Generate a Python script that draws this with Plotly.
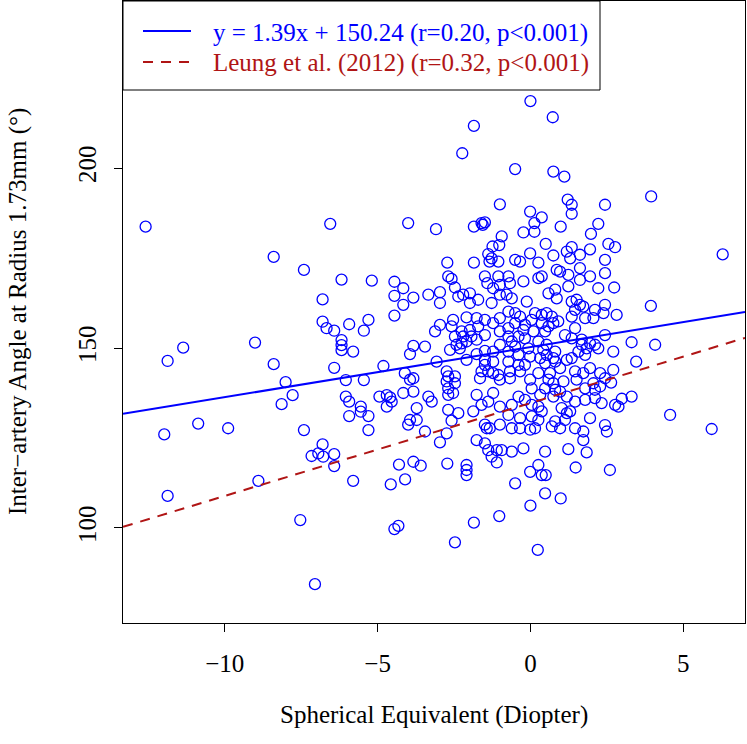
import plotly.graph_objects as go

# Spherical equivalent (diopter) values
se_x = [
    # far left
    -12.59, -11.87, -11.36, -9.01, -11.98, -10.87, -9.89, -11.87, -8.90,
    # -8.5 .. -4.3
    -6.55, -8.40, -7.41, -6.18, -5.19, -4.45, -4.45, -4.45, -6.80, -6.80,
    -6.67, -6.42, -5.93, -5.30, -5.45, -6.18, -6.18, -6.18, -5.80, -8.40,
    -6.42, -4.81, -8.01, -6.04, -5.45, -7.78, -8.14, -6.04, -5.93, -5.55,
    -5.55, -5.93, -5.30, -5.30, -4.94, -4.70, -4.59, -4.54, -4.70, -7.41,
    -6.80, -7.16, -6.94, -6.78, -6.42, -6.42, -5.80, -4.57, -7.53, -4.45,
    -4.32, -7.05,
    # upper middle
    -1.85, -2.23, -1.00, -4.00, -3.09, -1.85, -1.60, -1.49, -1.56, -0.94,
    -1.02, -1.24, -1.38, -1.27, -2.72, -1.85, -1.34, -1.05,
    # middle -4.2 .. -0.9
    -2.69, -2.58, -4.16, -4.16, -3.83, -3.34, -2.96, -2.96, -2.47, -2.36,
    -2.20, -1.98, -1.98, -1.71, -1.49, -1.41, -1.22, -1.05, -1.00, -1.00,
    -1.27, -2.53, -2.09, -1.76, -1.49, -1.22, -1.00, -2.96, -3.12, -2.58,
    -2.25, -1.98, -1.71, -2.47, -2.20, -1.93, -1.49, -1.00, -2.42, -2.25,
    -2.09, -1.76, -2.63, -2.31, -3.83, -3.45, -3.94, -1.49, -1.76, -1.22,
    -1.00, -3.07, -2.09, -1.49, -1.49, -1.22, -1.60, -1.38, -1.22, -1.05,
    -1.00, -1.65, -4.11, -3.94, -3.83, -2.74, -2.69, -2.47, -2.74, -2.47,
    -2.69, -2.53, -2.69, -4.16, -3.83, -3.34, -3.23, -1.76, -1.22, -1.38,
    -1.60, -1.00, -3.72, -2.69, -2.36, -1.87, -3.94, -3.72, -4.00, -2.58,
    -1.49, -1.33, -1.43, -1.00, -3.45, -2.74,
    # lower middle
    -2.96, -1.76, -1.49, -1.38, -1.10, -0.94, -1.27, -1.10, -4.30, -3.83,
    -3.59, -2.72, -2.09, -2.09, -2.09, -4.10, -1.85, -1.02, -2.47,
    # upper right
    0.00, 0.73, -0.50, 0.75, 1.11, 1.22, 1.35, 1.35, 2.44, -0.01,
    0.37, 0.13, 0.13, -0.23, 0.99, 2.22, 1.98, 0.50, -0.01, -0.50,
    -0.34, 0.26, 0.75, 1.19, 1.35, 1.30, 1.62, 1.95, 2.44, 2.55,
    3.95, 6.29, 2.77,
    # dense centre
    0.86, 0.97, 1.24, 1.62, 1.95, -0.72, -0.67, -0.23, 0.26, 0.37,
    1.24, 1.62, 2.22, 0.59, 0.81, 0.86, 2.44, -0.78, -0.61, -0.12,
    1.35, 1.51, 1.62, 1.73, 1.46, 2.11, 2.44, 2.39, 2.06, 1.79,
    1.35, -0.72, -0.50, -0.34, 0.15, 0.37, 0.53, 0.70, 0.91, 0.75,
    0.37, 0.04, -0.18, -0.50, -0.72, -0.23, 0.10, 0.48, 1.46, 0.59,
    -0.72, -0.39, -0.61, -0.18, 0.26, 0.53, 1.13, 1.35, 1.68, 1.95,
    1.84, 2.11, 2.44, 2.22, -0.50, -0.07, 0.42, 0.81, 1.57, 1.79,
    1.68, -0.72, -0.39, -0.01, 0.32, 0.53, 0.75, 0.81, 1.19, 1.35,
    0.48, -0.39, -0.18, -0.72, -0.67, -0.34, 0.26, 0.64, 0.97, 1.46,
    1.73, 1.95, 2.28, 2.44, -0.67, -0.01, 0.59, 0.75, 1.08, 1.51,
    2.06, 2.28, 0.04, 0.48, 0.81, 0.97, 1.79, 2.11, -0.39, -0.18,
    0.32, 0.75, 1.19, -0.61, 0.04, 0.26, 0.37, 1.02, 1.19, 1.46,
    1.79, 2.11, 2.33, -0.72, -0.34, 0.04, 0.26, 0.81, 1.13, 1.30,
    1.95, -0.61, -0.34, -0.01, 0.15, 0.70, 0.97, 1.46, 1.73, 2.44,
    2.50,
    # lower right centre
    1.73, -0.61, -0.23, 0.48, 1.24, 1.84, 0.26, -0.01, 0.37, 0.50,
    1.48, 2.60, -0.50, 0.48, 0.99, 0.00, 0.24,
    # right
    2.74, 3.94, 2.82, 3.31, 4.08, 2.71, 3.46, 2.71, 2.64, 3.31,
    2.99, 2.77, 2.88, 4.57, 5.93,
]

# Inter-artery angle (degrees) values, same order
angle_y = [
    183.7, 146.4, 150.1, 151.5, 126.0, 129.0, 127.7, 108.9, 113.1,
    184.5, 175.3, 171.7, 169.0, 168.7, 168.4, 164.5, 159.0, 163.5, 157.3,
    155.5, 154.8, 156.6, 157.8, 154.8, 152.2, 150.8, 149.4, 149.0, 145.5,
    144.5, 145.0, 140.5, 141.1, 141.1, 136.9, 134.4, 136.5, 135.1, 133.7,
    132.3, 131.1, 131.1, 127.2, 136.5, 136.9, 136.3, 135.1, 133.7, 127.2,
    123.2, 120.0, 120.7, 119.8, 120.5, 117.2, 113.1, 112.1, 102.2, 99.7,
    100.6, 84.4,
    211.7, 204.1, 189.9, 184.7, 183.0, 183.7, 184.7, 184.9, 184.2, 181.0,
    178.6, 178.2, 176.1, 174.9, 173.7, 173.7, 174.0, 174.0,
    169.9, 169.2, 166.6, 162.0, 164.0, 164.8, 165.5, 162.5, 166.8, 164.3,
    164.8, 165.2, 162.5, 163.4, 169.9, 168.0, 166.6, 169.9, 167.5, 164.8,
    162.5, 157.8, 158.5, 158.3, 157.8, 156.9, 158.3, 156.4, 154.6, 156.0,
    154.6, 155.0, 156.0, 153.2, 153.2, 153.2, 153.6, 154.6, 150.9, 151.3,
    151.8, 152.3, 149.5, 149.9, 150.6, 150.4, 148.3, 149.2, 148.3, 149.0,
    150.9, 146.2, 146.7, 146.7, 145.3, 146.2, 143.5, 143.5, 143.0, 142.5,
    141.2, 141.6, 143.0, 141.2, 141.6, 143.5, 142.1, 142.1, 140.7, 140.2,
    138.8, 137.5, 137.0, 137.5, 137.9, 136.5, 135.1, 137.0, 137.5, 135.1,
    134.2, 133.7, 133.3, 132.8, 131.9, 132.4, 130.0, 130.0, 128.7, 129.8,
    128.7, 127.7, 127.7, 128.7, 126.8, 126.3,
    123.8, 124.4, 123.5, 121.6, 121.6, 121.6, 119.8, 118.2, 117.6, 118.4,
    117.3, 117.9, 117.5, 116.1, 114.7, 113.5, 101.5, 103.3, 96.0,
    218.6, 214.1, 199.7, 199.0, 197.6, 191.2, 189.8, 187.3, 189.8, 187.9,
    186.3, 184.7, 182.3, 182.1, 183.7, 184.5, 181.7, 178.9, 176.3, 174.5,
    174.0, 173.7, 175.7, 176.8, 178.0, 174.9, 175.9, 177.4, 174.5, 178.9,
    192.1, 176.0, 178.0,
    171.7, 171.2, 170.3, 172.2, 169.9, 169.9, 168.0, 168.5, 169.4, 169.9,
    167.1, 168.9, 166.6, 165.2, 166.2, 163.8, 170.8, 164.8, 163.8, 162.9,
    162.9, 163.4, 162.0, 161.5, 160.6, 160.6, 162.0, 159.7, 158.3, 158.3,
    158.7, 160.1, 159.7, 158.7, 159.7, 159.2, 159.7, 158.7, 157.4, 156.9,
    156.9, 157.8, 156.4, 156.9, 155.5, 155.0, 154.6, 154.6, 155.5, 156.0,
    153.2, 153.2, 151.8, 152.7, 151.8, 150.9, 153.6, 152.7, 152.3, 151.3,
    149.9, 150.9, 153.6, 149.9, 150.4, 149.9, 149.5, 149.0, 149.0, 148.1,
    150.9, 149.0, 148.1, 147.6, 147.2, 148.1, 147.2, 146.2, 146.7, 147.2,
    145.8, 145.3, 145.3, 146.2, 143.5, 143.5, 143.0, 143.0, 144.4, 143.5,
    143.0, 144.4, 143.0, 141.6, 141.6, 141.2, 141.2, 140.2, 140.7, 141.2,
    140.2, 139.3, 138.8, 138.8, 138.4, 137.9, 138.8, 138.4, 136.5, 135.6,
    137.0, 136.5, 136.5, 134.2, 134.2, 133.7, 132.4, 133.3, 131.9, 135.1,
    135.6, 136.1, 134.7, 131.4, 130.5, 131.0, 130.0, 129.6, 130.0, 132.4,
    130.5, 127.7, 127.7, 127.3, 127.7, 128.2, 127.7, 127.7, 126.8, 128.6,
    126.8,
    124.4, 121.2, 122.1, 121.2, 121.9, 121.0, 117.5, 115.6, 114.7, 114.7,
    116.8, 116.1, 112.4, 109.6, 108.2, 106.2, 93.9,
    166.8, 161.7, 159.2, 151.6, 150.9, 149.0, 146.2, 143.9, 140.4, 136.5,
    135.9, 134.2, 133.7, 131.4, 127.5,
]

# Regression lines: (slope, intercept)
fit_slope, fit_intercept = 1.39, 150.24
leung_slope, leung_intercept = 2.58, 134.7

x_range = [-13.33, 7.02]
y_range = [73.6, 246.4]
x_ticks = [-10, -5, 0, 5]
x_ticklabels = ["\u221210", "\u22125", "0", "5"]
y_ticks = [100, 150, 200]
y_ticklabels = ["100", "150", "200"]

legend_labels = [
    "y = 1.39x + 150.24 (r=0.20, p<0.001)",
    "Leung et al. (2012) (r=0.32, p<0.001)",
]
x_title = "Spherical Equivalent (Diopter)"
y_title = "Inter\u2212artery Angle at Radius 1.73mm (\u00b0)"

BLUE = "#0000FF"
RED = "#B01515"
FONT = "Liberation Serif"
FS = 25

fig = go.Figure()
fig.add_trace(go.Scatter(
    x=se_x, y=angle_y, mode="markers",
    marker=dict(symbol="circle-open", size=11, color=BLUE,
                line=dict(width=1.3, color=BLUE)),
    showlegend=False, hoverinfo="x+y",
))
fig.add_trace(go.Scatter(
    x=x_range, y=[fit_intercept + fit_slope * v for v in x_range],
    mode="lines", line=dict(color=BLUE, width=2), showlegend=False,
))
fig.add_trace(go.Scatter(
    x=x_range, y=[leung_intercept + leung_slope * v for v in x_range],
    mode="lines", line=dict(color=RED, width=2, dash="10px,8px"), showlegend=False,
))

L, R, T, B = 123, 2, 1, 121
W, H = 747, 744
pw, ph = W - L - R, H - T - B

def px_x(p):
    return (p - L) / pw

def px_y(p):
    return (H - B - p) / ph

shapes = [
    dict(type="rect", xref="paper", yref="paper",
         x0=0, x1=px_x(600), y0=px_y(90), y1=1,
         line=dict(color="black", width=1), fillcolor="white", layer="above"),
    dict(type="line", xref="paper", yref="paper",
         x0=px_x(143), x1=px_x(191), y0=px_y(31), y1=px_y(31),
         line=dict(color=BLUE, width=2)),
    dict(type="line", xref="paper", yref="paper",
         x0=px_x(143), x1=px_x(191), y0=px_y(62), y1=px_y(62),
         line=dict(color=RED, width=2, dash="10px,8px")),
]

annotations = [
    dict(text=legend_labels[0], xref="paper", yref="paper", x=px_x(211), y=px_y(33),
         xanchor="left", yanchor="middle", showarrow=False,
         font=dict(family=FONT, size=FS, color=BLUE)),
    dict(text=legend_labels[1], xref="paper", yref="paper", x=px_x(211), y=px_y(63),
         xanchor="left", yanchor="middle", showarrow=False,
         font=dict(family=FONT, size=FS, color=RED)),
    dict(text=x_title, xref="paper", yref="paper", x=0.5, y=px_y(715),
         xanchor="center", yanchor="middle", showarrow=False,
         font=dict(family=FONT, size=FS, color="black")),
    dict(text=y_title, xref="paper", yref="paper", x=px_x(18), y=0.5,
         xanchor="center", yanchor="middle", showarrow=False, textangle=-90,
         font=dict(family=FONT, size=FS, color="black")),
]

axis_common = dict(
    showgrid=False, zeroline=False, showline=True, mirror=True,
    linecolor="black", linewidth=1, ticks="outside", ticklen=8,
    tickcolor="black", tickwidth=1,
    tickfont=dict(family=FONT, size=FS, color="black"),
)

fig.update_layout(
    width=W, height=H,
    margin=dict(l=L, r=R, t=T, b=B, pad=0),
    paper_bgcolor="white", plot_bgcolor="white",
    xaxis=dict(range=x_range, tickmode="array", tickvals=x_ticks,
               ticktext=x_ticklabels, ticklabelstandoff=10, **axis_common),
    yaxis=dict(range=y_range, tickmode="array", tickvals=y_ticks,
               ticktext=y_ticklabels, tickangle=-90, ticklabelstandoff=8, **axis_common),
    shapes=shapes, annotations=annotations, showlegend=False,
)

fig.write_html(
    "out.html",
    config={"displayModeBar": False},
    post_script="document.body.style.margin='0';document.body.style.padding='0';",
)
